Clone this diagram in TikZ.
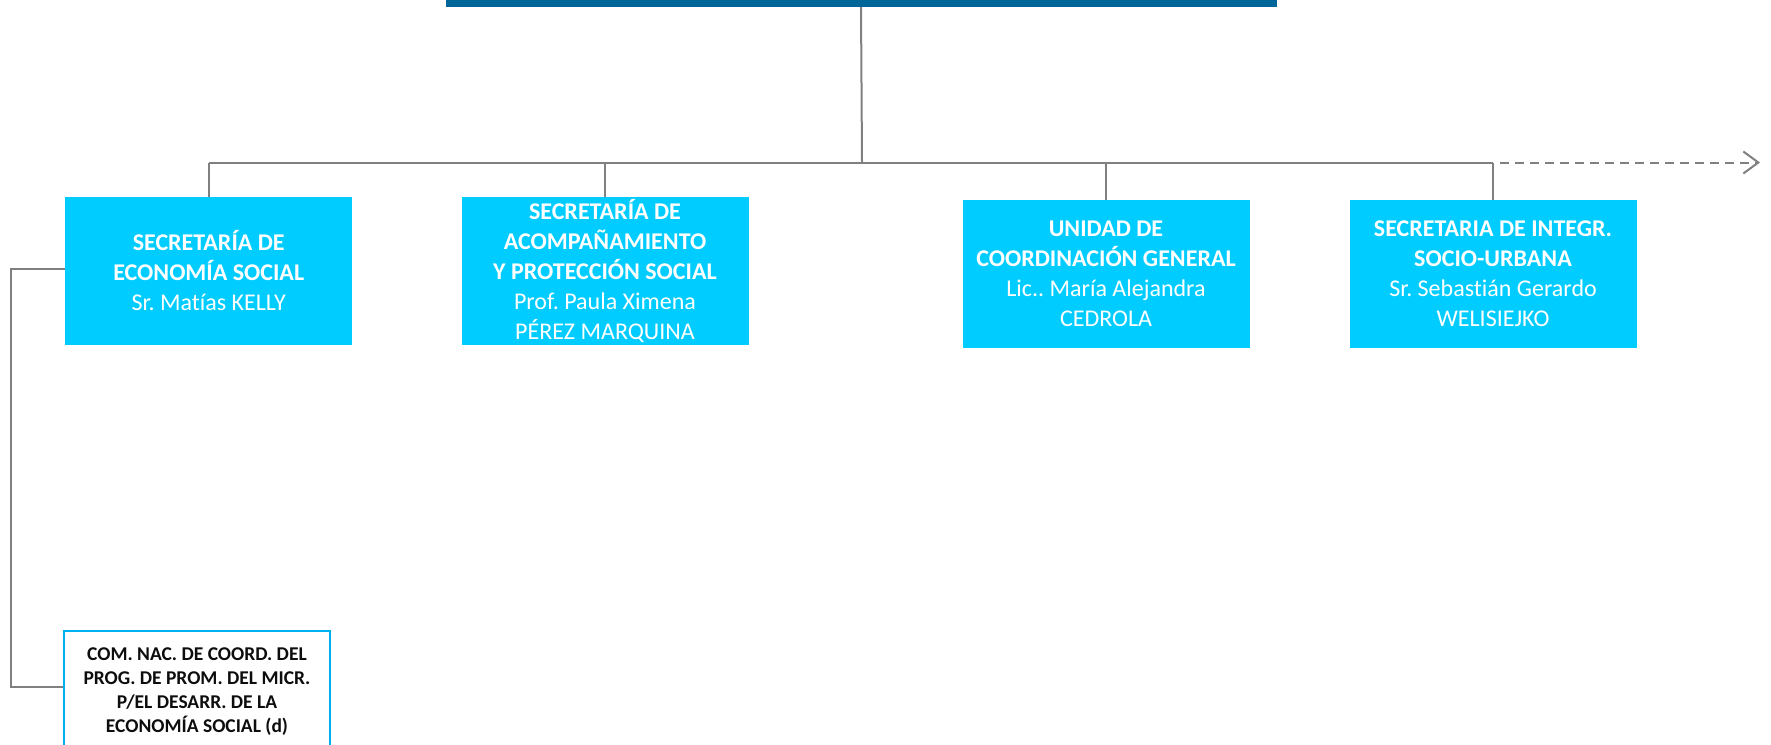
\documentclass[tikz,border=0pt]{standalone}
\usepackage{fontspec}
\setmainfont{Carlito}[Ligatures=NoCommon]
\usetikzlibrary{arrows.meta}
\frenchspacing
\definecolor{barblue}{RGB}{0,102,153}
\definecolor{boxcyan}{RGB}{0,204,255}
\definecolor{linegray}{RGB}{128,128,128}
\definecolor{frameblue}{RGB}{0,176,240}
\definecolor{textdark}{RGB}{13,13,13}
\tikzset{
 orgbox/.style={fill=boxcyan, draw=none, text=white, align=center, minimum width=287pt, minimum height=148pt, inner sep=0pt, font=\fontsize{24}{30}\selectfont},
 subbox/.style={fill=white, draw=frameblue, line width=1.8pt, text=textdark, align=center, minimum width=266pt, minimum height=122pt, inner sep=0pt, font=\fontsize{19.5}{24}\selectfont\bfseries},
 topbar/.style={fill=barblue, draw=none, minimum width=831pt, minimum height=7pt, inner sep=0pt},
 link/.style={draw=linegray, line width=2pt},
 ext/.style={link, dash pattern=on 9pt off 6pt, -{Straight Barb[length=15pt,width=22pt,line width=2pt]}}
}
\begin{document}
\begin{tikzpicture}[x=1pt,y=-1pt]
\useasboundingbox (0,0) rectangle (1771,744);
\clip (0,0) rectangle (1771,744);
\fill[white] (0,0) rectangle (1771,744);

\node[topbar] (top) at (861,3.5) {};
\coordinate (hub) at (862,162.5);
\coordinate (extend) at (1760,162.5);

\node[orgbox] (b1) at (208.75,270.8) {\textbf{SECRETARÍA DE}\\\textbf{ECONOMÍA SOCIAL}\\Sr. Matías KELLY};
\node[orgbox] (b2) at (605,270.8) {\textbf{SECRETARÍA DE}\\\textbf{ACOMPAÑAMIENTO}\\\textbf{Y PROTECCIÓN SOCIAL}\\Prof. Paula Ximena\\PÉREZ MARQUINA};
\node[orgbox] (b3) at (1106,274) {\textbf{UNIDAD DE}\\\textbf{COORDINACIÓN GENERAL}\\Lic.. María Alejandra\\CEDROLA};
\node[orgbox] (b4) at (1493,274) {\textbf{SECRETARIA DE INTEGR.}\\\textbf{SOCIO-URBANA}\\Sr. Sebastián Gerardo\\WELISIEJKO};
\node[subbox] (b5) at (197,692) {COM. NAC. DE COORD. DEL\\PROG. DE PROM. DEL MICR.\\P/EL DESARR. DE LA\\ECONOMÍA SOCIAL (d)};

\draw[link] (top.south) -- (hub);
\draw[link] (b1.north |- hub) -- (b4.north |- hub);
\draw[link] (b1.north |- hub) -- (b1.north);
\draw[link] (b2.north |- hub) -- (b2.north);
\draw[link] (b3.north |- hub) -- (b3.north);
\draw[link] (b4.north |- hub) -- (b4.north);
\draw[ext] ([xshift=7pt]b4.north |- hub) -- (extend);
\draw[link] ([yshift=1.5pt]b1.west) -- ++(-54.5,0) |- ([yshift=5pt]b5.west);
\end{tikzpicture}
\end{document}
